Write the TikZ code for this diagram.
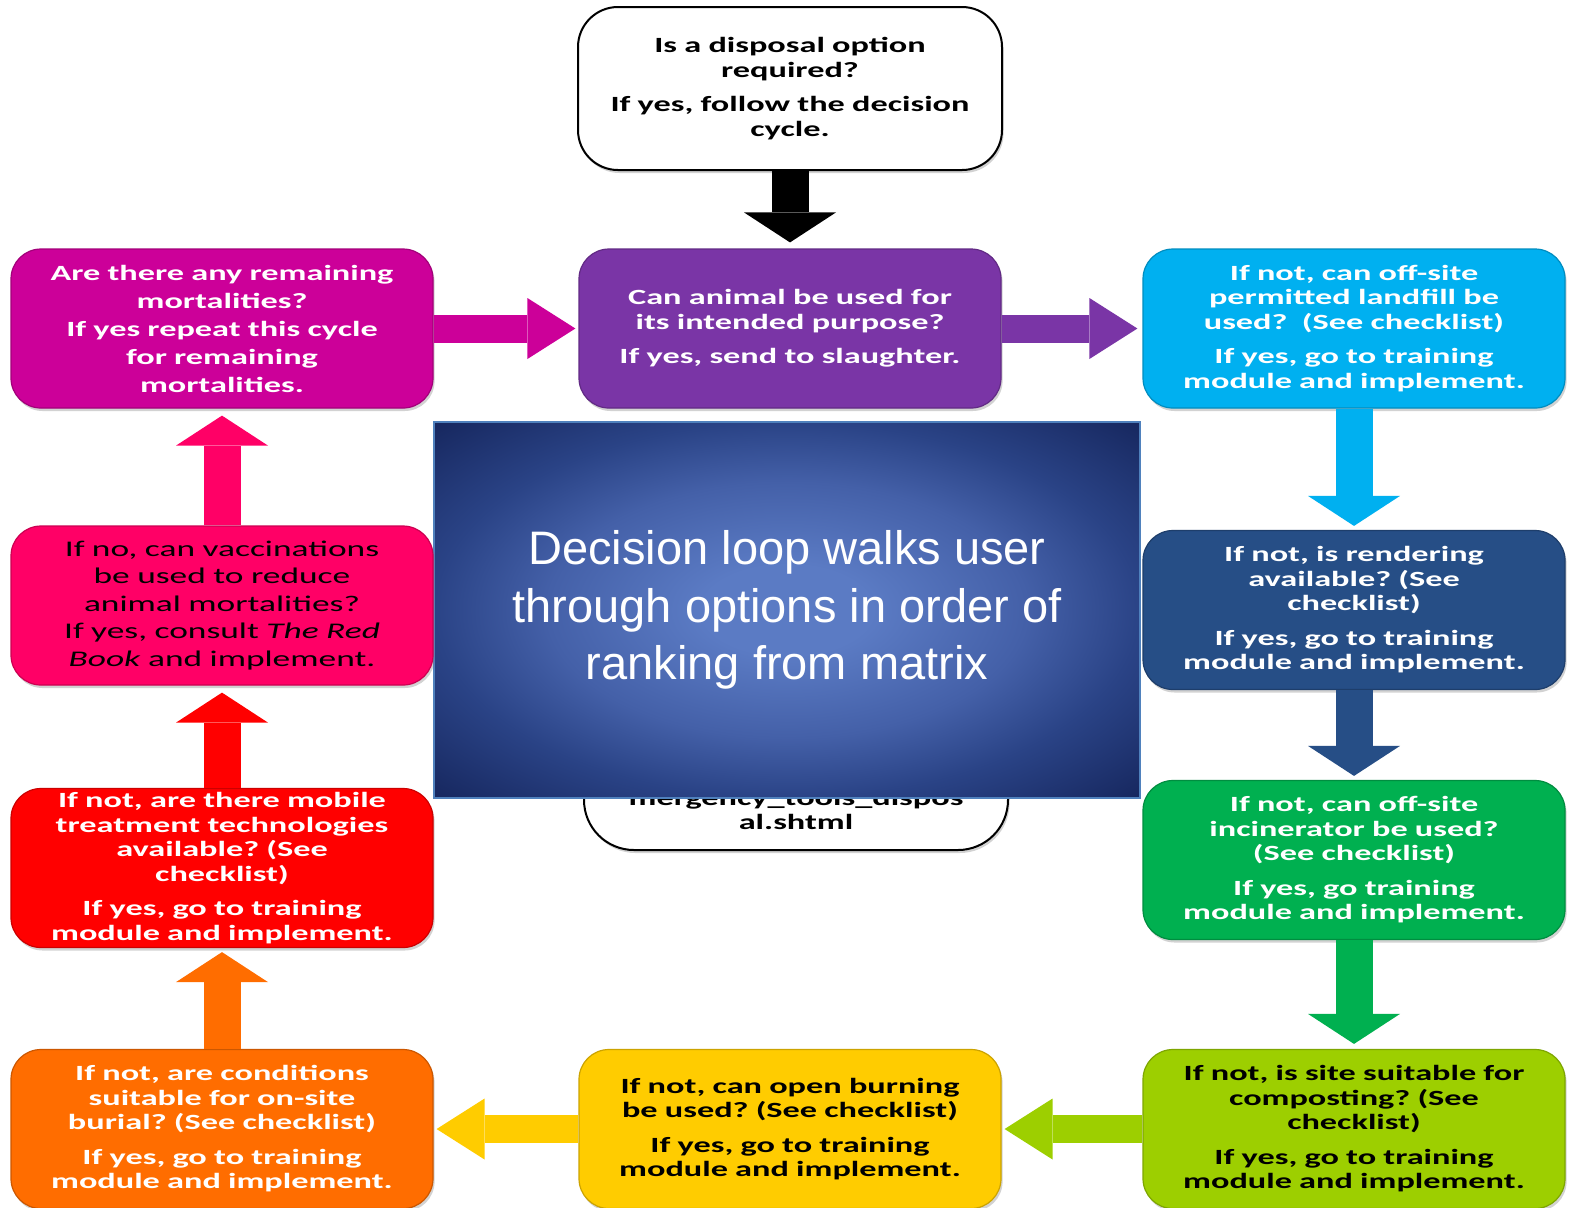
\documentclass[tikz,border=0pt]{standalone}
\usepackage{fontspec}
\usetikzlibrary{%
  arrows.meta,%
  shadows%
}
\frenchspacing
\newfontfamily\boxfont[FakeStretch=1.58]{Carlito}
\newfontfamily\loopfont{Liberation Sans}
\newcommand{\boxtxt}{\boxfont\bfseries\fontsize{10.85}{12.25}\selectfont}
\newcommand{\vacctxt}{\boxfont\fontsize{11.2}{13.75}\selectfont}
\definecolor{remain}{HTML}{CC0099}
\definecolor{use}{HTML}{7A35A6}
\definecolor{landfill}{HTML}{00B0F0}
\definecolor{render}{HTML}{264E86}
\definecolor{incin}{HTML}{00B050}
\definecolor{compost}{HTML}{9DCF00}
\definecolor{burning}{HTML}{FFCC00}
\definecolor{burial}{HTML}{FF6D00}
\definecolor{mobile}{HTML}{FF0000}
\definecolor{vaccine}{HTML}{FF0066}
\definecolor{loopin}{HTML}{5B7BC4}
\definecolor{loopmid}{HTML}{4460A8}
\definecolor{looprim}{HTML}{2A4386}
\definecolor{loopout}{HTML}{172860}
\definecolor{loopedge}{HTML}{4F81BD}
\pgfdeclareradialshading{loopshade}{\pgfpoint{0bp}{0bp}}{%
  color(0bp)=(loopin); color(6bp)=(loopin); color(17bp)=(loopmid);
  color(25bp)=(looprim); color(35bp)=(loopout); color(50bp)=(loopout)}
\tikzset{
  optbox/.style={rounded corners=15pt, minimum width=211pt, minimum height=79.5pt,
    text width=205pt, align=center, inner sep=0pt, font=\boxtxt,
    fill=#1, draw=#1!80!black, line width=0.6pt,
    drop shadow={shadow xshift=0.8pt, shadow yshift=-1.5pt, opacity=0.35}},
  startbox/.style={optbox=white, draw=black, line width=1pt, rounded corners=20pt,
    minimum width=212pt, minimum height=81.5pt},
  vflow/.style={draw=#1, line width=18.5pt, shorten >=2pt,
    -{Triangle[length=15pt, width=46pt, line width=0pt]}},
  hflow/.style={draw=#1, line width=14pt, shorten >=1.5pt,
    -{Triangle[length=24pt, width=30.5pt, line width=0pt]}}
}

\begin{document}
\begin{tikzpicture}[x=0.5pt, y=-0.5pt]
  \useasboundingbox[fill=white] (0,0) rectangle (1569,1207);

  % box partly hidden behind the centre panel
  \node[startbox, rounded corners=25pt] (urlbox) at (796,768.5) {};
  \node[font=\boxtxt, align=center] (url) at (796,810) {mergency\_tools\_dispos\\ al.shtml};

  \node[minimum width=353pt, minimum height=188pt, inner sep=0pt,
    shading=loopshade, draw=loopedge, line width=0.8pt,
    text=white, align=center, font=\loopfont\fontsize{23.5}{28.75}\selectfont]
    (loop) at (787,610) {Decision loop walks user\\ through options in order of\\ ranking from matrix};

  \node[startbox] (need) at (790,88.5) {Is a disposal option\\ required?\\[5pt]
    If yes, follow the decision\\ cycle.};

  \node[optbox=remain, text=white, font=\boxtxt\fontsize{10.85}{14}\selectfont]
    (remain) at (222,328.5) {Are there any remaining\\ mortalities?\\ If yes repeat this cycle\\
    for remaining\\ mortalities.};
  \node[optbox=use, text=white] (use) at (790,328.5) {Can animal be used for\\
    its intended purpose?\\[5pt] If yes, send to slaughter.};
  \node[optbox=landfill, text=white] (landfill) at (1354,328.5) {If not, can off-site\\
    permitted landfill be\\ used?~ (See checklist)\\[5pt] If yes, go to training\\
    module and implement.};

  \node[optbox=vaccine, font=\vacctxt] (vaccine) at (222,605.5) {If no, can vaccinations\\
    be used to reduce\\ animal mortalities?\\ If yes, consult \textit{The Red}\\
    \textit{Book} and implement.};
  \node[optbox=render, text=white] (render) at (1354,610) {If not, is rendering\\
    available? (See\\ checklist)\\[5pt] If yes, go to training\\ module and implement.};

  \node[optbox=mobile, text=white] (mobile) at (222,868) {If not, are there mobile\\
    treatment technologies\\ available? (See\\ checklist)\\[5pt] If yes, go to training\\
    module and implement.};
  \node[optbox=incin, text=white] (incin) at (1354,860) {If not, can off-site\\
    incinerator be used?\\ (See checklist)\\[5pt] If yes, go training\\
    module and implement.};

  \node[optbox=burial, text=white] (burial) at (222,1129) {If not, are conditions\\
    suitable for on-site\\ burial? (See checklist)\\[5pt] If yes, go to training\\
    module and implement.};
  \node[optbox=burning] (burning) at (790,1129) {If not, can open burning\\
    be used? (See checklist)\\[5pt] If yes, go to training\\ module and implement.};
  \node[optbox=compost] (compost) at (1354,1129) {If not, is site suitable for\\
    composting? (See\\ checklist)\\[5pt] If yes, go to training\\ module and implement.};

  % the decision cycle
  \draw[vflow=black, shorten >=3pt] (need.south) -- (use.north);
  \draw[hflow=remain] (remain.east) -- (use.west);
  \draw[hflow=use, shorten >=2.5pt] (use.east) -- (landfill.west);
  \draw[vflow=landfill] (landfill.south) -- (render.north);
  \draw[vflow=render] (render.south) -- (incin.north);
  \draw[vflow=incin, shorten >=2.5pt] (incin.south) -- (compost.north);
  \draw[hflow=compost] (compost.west) -- (burning.east);
  \draw[hflow=burning] (burning.west) -- (burial.east);
  \draw[vflow=burial] (burial.north) -- (mobile.south);
  \draw[vflow=mobile, shorten >=3.5pt] (mobile.north) -- (vaccine.south);
  \draw[vflow=vaccine, shorten >=3.5pt] (vaccine.north) -- (remain.south);
\end{tikzpicture}
\end{document}
